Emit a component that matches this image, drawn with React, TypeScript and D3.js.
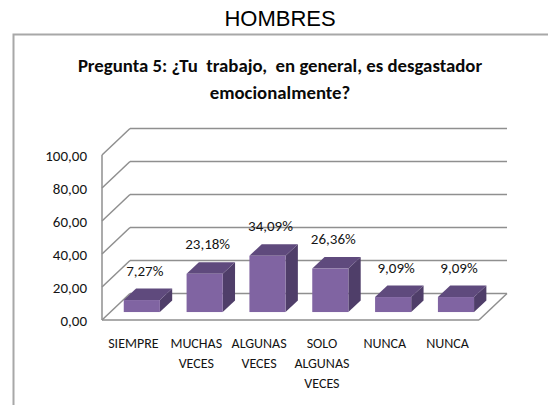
import React from "react";
import * as d3 from "d3";

const categories: string[][] = [
  ["SIEMPRE"],
  ["MUCHAS", "VECES"],
  ["ALGUNAS", "VECES"],
  ["SOLO", "ALGUNAS", "VECES"],
  ["NUNCA"],
  ["NUNCA"],
];
const values: number[] = [7.27, 23.18, 34.09, 26.36, 9.09, 9.09];
const yTicks: number[] = [0, 20, 40, 60, 80, 100];
const pageTitle = "HOMBRES";
const chartTitle = ["Pregunta 5: ¿Tu  trabajo,  en general, es desgastador", "emocionalmente?"];

const W = 549;
const H = 405;
const FONT = "Carlito, Lato, 'Open Sans', sans-serif";

export default function App() {
  const x0 = 102, x1 = 479;
  const depthX = 28, depthY = -26.5;
  const y = d3.scaleLinear().domain([0, 100]).range([320, 155]);
  const x = d3.scaleBand<number>().domain(values.map((_, i) => i)).range([x0, x1]);
  const bw = x.bandwidth() * 0.575;
  const t0 = 0.3, t1 = 0.74;
  const fmt = (v: number) => v.toFixed(2).replace(".", ",");

  const grid = "#8f8f8f";
  const front = "#8064a2";
  const top = "#5f4a7d";
  const side = "#4f3e69";
  const ink = "#141414";

  return (
    <svg width={W} height={H} style={{ position: "absolute", left: 0, top: 0 }}>
      <rect x={0} y={0} width={W} height={H} fill="#fff" />
      <text x={280} y={26} textAnchor="middle" fontFamily="'Liberation Sans', Arial, sans-serif" fontSize={22} fill="#000">
        {pageTitle}
      </text>
      {/* chart frame */}
      <path d={`M13.5,${H} V34.5 H548`} fill="none" stroke="#a8a8a8" strokeWidth={2} />
      {chartTitle.map((l, i) => (
        <text key={i} x={280} y={72 + i * 27} textAnchor="middle" fontFamily={FONT} fontWeight="bold" fontSize={18.8} fill="#0a0a0a" style={{ whiteSpace: "pre" }}>
          {l}
        </text>
      ))}
      {/* walls */}
      <g stroke={grid} strokeWidth={1.5} fill="none">
        {yTicks.map((v) => (
          <g key={v}>
            <line x1={x0} y1={y(v)} x2={x0 + depthX} y2={y(v) + depthY} />
            <line x1={x0 + depthX} y1={y(v) + depthY} x2={x1 + depthX} y2={y(v) + depthY} />
          </g>
        ))}
        <line x1={x0} y1={y(0)} x2={x0} y2={y(100)} />
        <line x1={x0} y1={y(0)} x2={x1} y2={y(0)} />
        <line x1={x1} y1={y(0)} x2={x1 + depthX} y2={y(0) + depthY} />
      </g>
      {yTicks.map((v) => (
        <text key={v} x={87} y={y(v) + 2} textAnchor="end" dominantBaseline="middle" fontFamily={FONT} fontSize={15} fill={ink}>
          {fmt(v)}
        </text>
      ))}
      {/* bars */}
      {values.map((v, i) => {
        const cx = (x(i) as number) + x.bandwidth() / 2 + depthX * t0;
        const fx0 = cx - bw / 2, fx1 = cx + bw / 2;
        const by = y(0) + depthY * t0;
        const ty = y(v) + depthY * t0;
        const ddx = depthX * (t1 - t0), ddy = depthY * (t1 - t0);
        return (
          <g key={i}>
            <path d={`M${fx1},${by} L${fx1 + ddx},${by + ddy} L${fx1 + ddx},${ty + ddy} L${fx1},${ty} Z`} fill={side} />
            <path d={`M${fx0},${ty} L${fx0 + ddx},${ty + ddy} L${fx1 + ddx},${ty + ddy} L${fx1},${ty} Z`} fill={top} />
            <rect x={fx0} y={ty} width={bw} height={by - ty} fill={front} />
            <text x={cx + 3} y={ty - 28} textAnchor="middle" dominantBaseline="middle" fontFamily={FONT} fontSize={15} fill={ink}>
              {fmt(v)}%
            </text>
          </g>
        );
      })}
      {/* category labels */}
      {categories.map((lines, i) => (
        <text key={i} textAnchor="middle" fontFamily={FONT} fontSize={14} fill={ink}>
          {lines.map((l, j) => (
            <tspan key={j} x={(x(i) as number) + x.bandwidth() / 2} y={348 + j * 20}>
              {l}
            </tspan>
          ))}
        </text>
      ))}
    </svg>
  );
}
